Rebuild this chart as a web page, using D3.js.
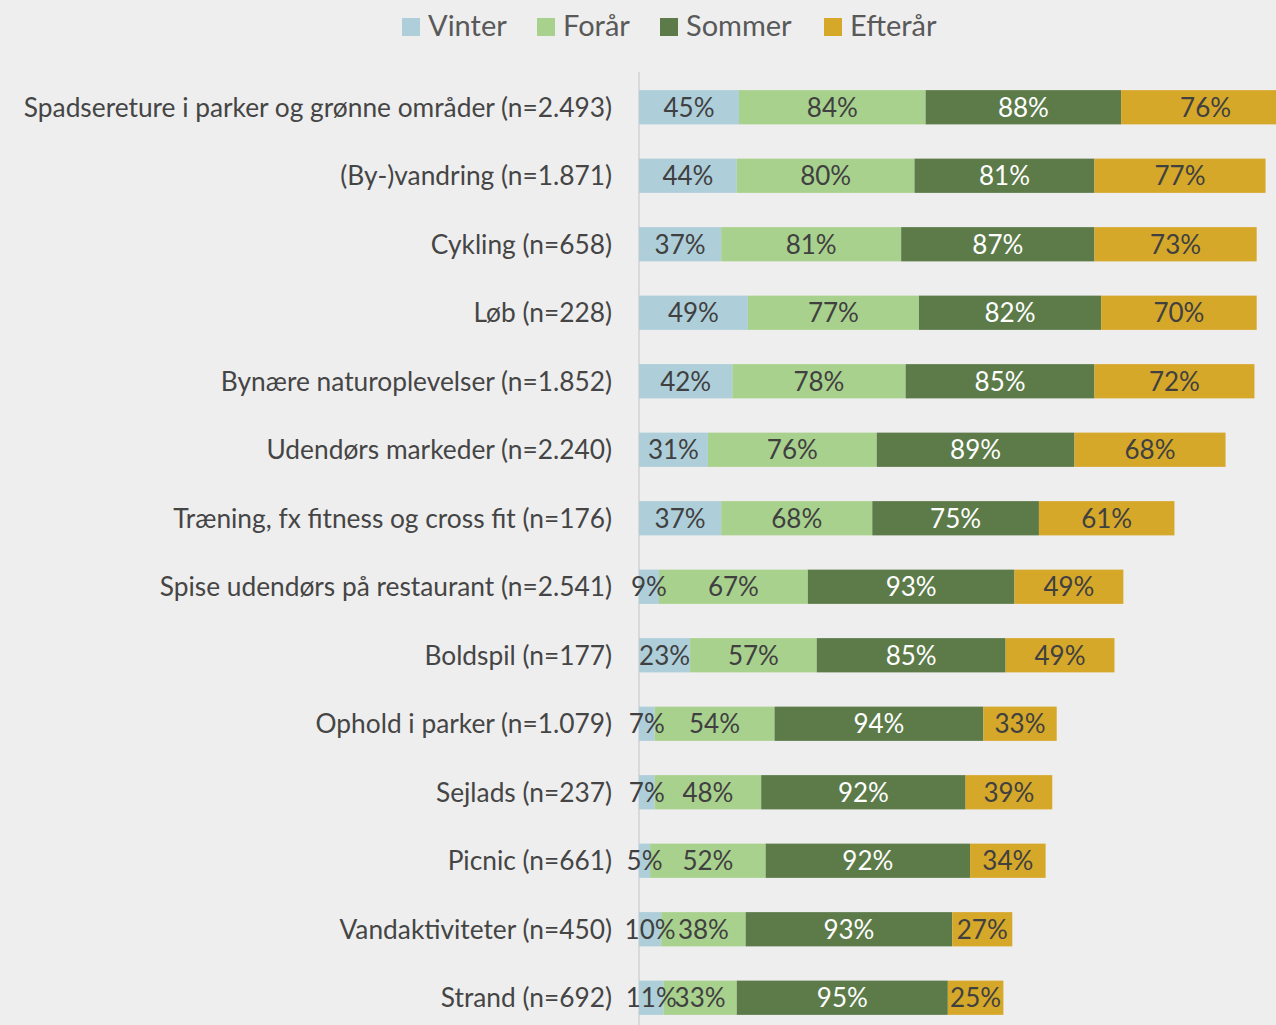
<!DOCTYPE html>
<html>
<head>
<meta charset="utf-8">
<script src="https://cdn.jsdelivr.net/npm/d3@7"></script>
<style>
  html, body { margin: 0; padding: 0; background: #eeeeee; }
  svg { display: block; font-family: Lato, "Open Sans", sans-serif; }
</style>
</head>
<body>
<svg id="chart" width="1276" height="1025"></svg>
<script>
const categories = [
  "Spadsereture i parker og grønne områder (n=2.493)",
  "(By-)vandring (n=1.871)",
  "Cykling (n=658)",
  "Løb (n=228)",
  "Bynære naturoplevelser (n=1.852)",
  "Udendørs markeder (n=2.240)",
  "Træning, fx fitness og cross fit (n=176)",
  "Spise udendørs på restaurant (n=2.541)",
  "Boldspil (n=177)",
  "Ophold i parker (n=1.079)",
  "Sejlads (n=237)",
  "Picnic (n=661)",
  "Vandaktiviteter (n=450)",
  "Strand (n=692)"
];
const vinter  = [45, 44, 37, 49, 42, 31, 37,  9, 23,  7,  7,  5, 10, 11];
const foraar  = [84, 80, 81, 77, 78, 76, 68, 67, 57, 54, 48, 52, 38, 33];
const sommer  = [88, 81, 87, 82, 85, 89, 75, 93, 85, 94, 92, 92, 93, 95];
const efteraar= [76, 77, 73, 70, 72, 68, 61, 49, 49, 33, 39, 34, 27, 25];

const seriesNames = ["Vinter", "Forår", "Sommer", "Efterår"];
const seriesColors = ["#aecfda", "#a9d18e", "#5c7b49", "#d6a829"];
const labelColors = ["#404040", "#404040", "#ffffff", "#404040"];

// tabel til stack
const rows = categories.map((c, i) => ({
  cat: c,
  "Vinter": vinter[i], "Forår": foraar[i], "Sommer": sommer[i], "Efterår": efteraar[i]
}));

const svg = d3.select("#chart");
const x0 = 639;
const x = d3.scaleLinear().domain([0, 286.7]).range([x0, 1276]);
// 68.5 px pr. række
const y = d3.scaleBand().domain(categories).range([73, 73 + 68.5 * 14]).paddingInner(0.5).paddingOuter(0.25);

const stack = d3.stack().keys(seriesNames)(rows);

// akse-linje
svg.append("line")
  .attr("x1", x0).attr("x2", x0)
  .attr("y1", 72).attr("y2", 1025)
  .attr("stroke", "#d9d9d9").attr("stroke-width", 2);

stack.forEach((layer, k) => {
  const g = svg.append("g");
  g.selectAll("rect").data(layer).enter().append("rect")
    .attr("x", d => x(d[0]))
    .attr("y", d => y(d.data.cat))
    .attr("width", d => x(d[1]) - x(d[0]))
    .attr("height", y.bandwidth())
    .attr("fill", seriesColors[k]);
});

stack.forEach((layer, k) => {
  const g = svg.append("g");
  g.selectAll("text").data(layer).enter().append("text")
    .attr("x", d => (x(d[0]) + x(d[1])) / 2)
    .attr("y", d => y(d.data.cat) + y.bandwidth() / 2)
    .attr("dy", "0.36em")
    .attr("text-anchor", "middle")
    .attr("font-size", 26)
    .attr("fill", labelColors[k])
    .text(d => (d[1] - d[0]) + "%");
});

// kategori-labels
svg.append("g").selectAll("text").data(categories).enter().append("text")
  .attr("x", 612)
  .attr("y", d => y(d) + y.bandwidth() / 2)
  .attr("dy", "0.36em")
  .attr("text-anchor", "end")
  .attr("font-size", 26.3)
  .attr("fill", "#454545")
  .text(d => d);

// legend
const legendX = [402, 537, 660, 824];
const legend = svg.append("g");
seriesNames.forEach((name, k) => {
  legend.append("rect")
    .attr("x", legendX[k]).attr("y", 18)
    .attr("width", 18).attr("height", 18)
    .attr("fill", seriesColors[k]);
  legend.append("text")
    .attr("x", legendX[k] + 26).attr("y", 26)
    .attr("dy", "0.36em")
    .attr("font-size", 29)
    .attr("fill", "#595959")
    .text(name);
});
</script>
</body>
</html>
